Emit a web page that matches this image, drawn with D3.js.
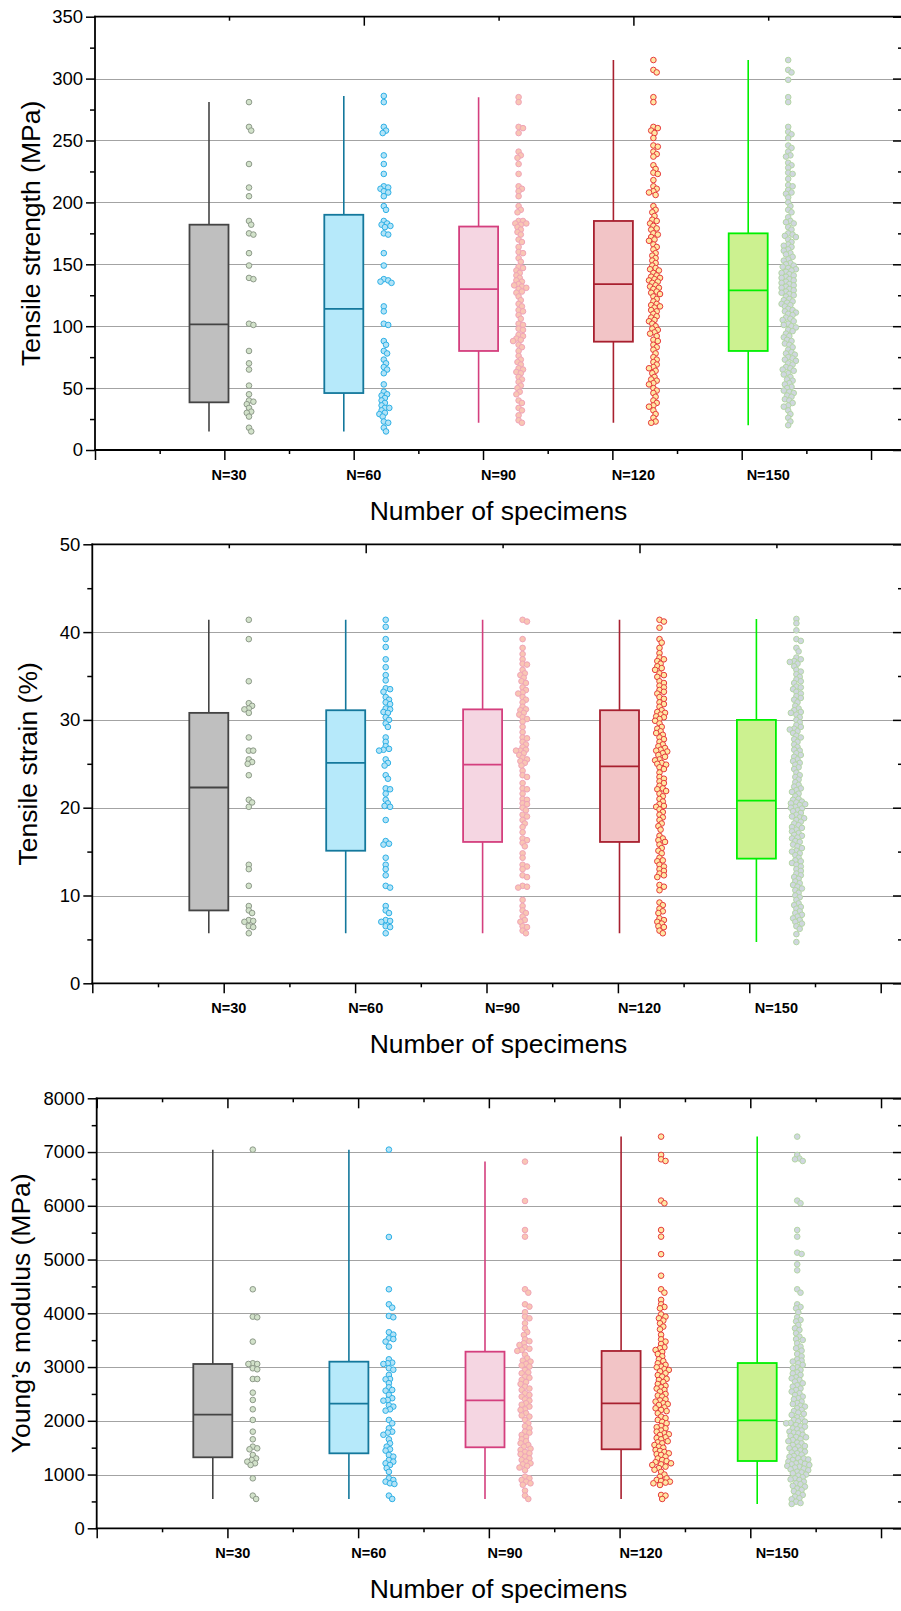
<!DOCTYPE html>
<html><head><meta charset="utf-8">
<script src="https://cdn.jsdelivr.net/npm/d3@7"></script>
<style>
body{margin:0;background:#fff}
svg{display:block}
text{font-family:"Liberation Sans",Arial,Helvetica,sans-serif;fill:#000}
</style>
</head><body>
<svg id="chart" width="901" height="1611"></svg>
<script>
// ---------------- DATA ----------------
const categories = ["N=30", "N=60", "N=90", "N=120", "N=150"];

// Tensile strength (MPa)
const strength30 = [281,261,258,231,212,205,185,182,175,174,159,149,139,138,102,101,80,70,65,52,45,40,39,37,34,31,30,27,18,15];
const strength60 = [286,281,261,258,256,238,231,223,213,212,211,209,208,205,197,194,185,183,182,181,180,175,174,159,149,138,137,136,135,116,112,102,101,88,85,80,78,73,70,67,65,62,53,47,45,44,42,40,38,36,34,34,32,30,29,27,23,22,18,15];
const strength90 = [285,281,261,260,256,241,238,236,231,223,213,211,209,205,197,194,192,185,185,183,183,182,180,178,176,174,170,168,164,160,159,155,152,148,147,145,143,141,139,137,136,134,133,132,131,130,128,127,124,121,118,116,113,112,109,106,102,101,98,97,93,92,90,89,88,85,83,80,76,73,71,69,66,65,63,62,59,57,55,52,50,47,45,40,38,34,32,28,24,22];
const strength120 = [315,307,305,285,281,261,260,258,256,252,246,245,241,239,237,230,227,224,223,218,213,211,209,208,206,197,194,192,189,186,185,183,181,179,178,175,174,172,170,169,166,164,162,159,157,155,153,151,149,147,146,145,143,141,140,139,138,137,136,135,133,132,131,130,128,127,126,124,122,120,118,117,116,115,113,112,110,108,107,105,104,102,100,98,97,95,94,92,89,88,85,83,81,78,75,73,71,69,67,66,64,62,59,57,56,54,53,50,48,46,43,40,38,36,35,32,29,26,23,22];
const strength150 = [315,307,305,299,285,281,261,257,255,252,246,244,241,238,237,232,230,228,224,223,219,214,213,210,208,207,204,200,197,194,192,188,185,184,183,180,178,175,174,173,172,170,168,166,165,164,162,161,159,158,156,154,153,151,150,149,148,147,146,145,144,143,142,141,140,139,138,137,136,135,134,133,132,131,130,129,128,127,126,125,124,122,121,120,119,118,117,116,114,113,112,111,110,109,107,106,105,104,102,101,100,99,97,96,94,92,91,89,88,86,85,83,81,79,78,77,75,74,73,72,70,69,67,66,65,64,62,61,59,57,56,54,53,51,50,48,47,46,44,43,41,40,38,36,35,32,29,26,23,20];
const strengthQ1 = [38.5, 46, 80, 87.5, 80];
const strengthMedian = [101.5, 114, 130, 134, 129];
const strengthQ3 = [182, 190, 180.5, 185, 175];
const strengthTicks = [0, 50, 100, 150, 200, 250, 300, 350];

// Tensile strain (%)
const strain30 = [41.4,39.2,34.4,31.9,31.6,31.3,31.2,30.8,28.0,26.5,26.5,25.5,25.2,25.0,23.7,20.9,20.6,20.1,13.5,13.0,11.1,8.8,8.3,8.0,7.2,7.1,7.0,6.5,6.4,5.7];
const strain60 = [41.4,40.6,39.2,38.3,36.9,36.0,35.1,34.5,33.6,33.5,33.2,32.6,32.3,32.0,31.8,31.3,31.2,30.9,30.8,30.3,30.0,29.6,29.2,28.0,27.5,27.0,26.7,26.6,26.5,25.5,25.1,24.8,23.7,23.3,22.2,22.1,21.6,20.9,20.5,20.2,20.1,18.6,16.2,15.9,15.8,14.3,13.5,13.0,12.3,11.1,10.9,8.8,8.3,8.0,7.2,7.1,7.0,6.5,6.4,5.7];
const strain90 = [41.4,41.2,39.2,38.2,37.5,36.9,36.4,36.3,35.7,35.3,35.1,34.8,34.4,34.2,33.7,33.4,33.1,33.0,32.6,32.3,32.0,31.5,31.2,31.1,30.8,30.6,30.3,30.1,29.8,29.2,28.6,28.0,27.9,27.5,27.2,26.9,26.6,26.5,26.5,26.2,26.0,25.7,25.5,25.3,25.1,24.8,24.2,23.7,23.5,22.8,22.2,22.1,21.6,21.0,20.9,20.5,20.4,20.0,19.7,19.2,19.0,18.6,18.2,17.8,17.2,16.5,16.3,16.0,15.6,14.8,14.3,13.5,13.3,13.0,12.3,12.1,11.1,11.0,10.9,9.5,8.8,8.3,8.0,7.6,7.2,7.0,6.5,6.4,6.0,5.7];
const strain120 = [41.4,41.2,40.5,39.2,38.8,38.2,37.6,37.1,36.9,36.7,36.4,36.1,35.9,35.7,35.3,35.1,34.9,34.4,34.2,33.9,33.7,33.4,33.2,33.0,32.6,32.4,32.0,31.8,31.5,31.1,30.9,30.8,30.6,30.4,30.3,30.1,29.9,29.6,29.2,29.0,28.7,28.5,28.3,28.0,27.8,27.5,27.2,27.0,26.8,26.6,26.5,26.4,26.2,26.0,25.8,25.5,25.4,25.1,25.0,24.9,24.6,24.4,24.0,23.5,23.3,23.0,22.8,22.5,22.2,22.1,21.9,21.6,21.3,21.0,20.7,20.4,20.2,20.1,19.8,19.5,19.2,18.9,18.6,18.2,17.9,17.5,16.8,16.5,16.3,16.1,15.8,15.4,15.1,14.8,14.3,14.0,13.9,13.5,13.3,13.0,12.8,12.5,12.3,12.1,11.2,11.0,10.6,9.2,8.9,8.5,8.2,8.0,7.4,7.2,7.0,6.8,6.5,6.4,6.0,5.7];
const strain150 = [41.5,41.0,40.2,39.2,39.0,38.2,37.8,37.1,36.9,36.7,36.6,36.4,36.1,35.7,35.5,35.2,34.9,34.6,34.4,34.2,33.8,33.7,33.5,33.2,33.0,32.7,32.5,32.3,32.0,31.6,31.3,31.1,30.9,30.8,30.6,30.3,30.0,29.7,29.4,29.2,29.0,28.9,28.7,28.5,28.2,28.0,27.8,27.5,27.2,26.9,26.6,26.5,26.2,26.0,25.8,25.5,25.3,25.1,24.9,24.6,24.4,24.0,23.7,23.5,23.2,22.9,22.6,22.4,22.2,22.0,21.8,21.6,21.3,21.0,20.9,20.7,20.6,20.5,20.4,20.3,20.1,20.0,19.9,19.7,19.6,19.4,19.2,19.0,18.9,18.8,18.6,18.4,18.2,18.0,17.8,17.7,17.5,17.3,17.1,16.9,16.8,16.6,16.5,16.2,16.1,15.8,15.6,15.4,15.1,15.0,14.8,14.6,14.3,14.0,13.9,13.7,13.5,13.3,13.0,12.8,12.5,12.3,12.1,11.9,11.6,11.4,11.2,11.0,10.8,10.6,10.3,10.0,9.8,9.5,9.1,8.9,8.7,8.5,8.2,8.0,7.8,7.6,7.4,7.2,7.0,6.8,6.5,6.2,5.6,4.7];
const strainQ1 = [8.3, 15.1, 16.1, 16.1, 14.2];
const strainMedian = [22.3, 25.1, 24.9, 24.7, 20.8];
const strainQ3 = [30.8, 31.1, 31.2, 31.1, 30.0];
const strainTicks = [0, 10, 20, 30, 40, 50];

// Young's modulus (MPa)
const modulus30 = [7045,4447,3938,3926,3473,3070,3057,3057,2977,2958,2778,2778,2524,2388,2214,2016,1798,1656,1519,1488,1470,1364,1300,1271,1240,1209,1178,930,608,546];
const modulus60 = [7045,5420,4447,4167,4105,3950,3926,3647,3603,3535,3520,3473,3380,3144,3082,3070,3057,2977,2950,2853,2778,2772,2700,2623,2574,2560,2481,2420,2388,2375,2290,2264,2214,2189,2016,1953,1860,1798,1780,1740,1656,1581,1519,1470,1445,1364,1333,1271,1240,1209,1178,1120,1050,930,899,868,837,825,608,546];
const modulus90 = [6822,6090,5550,5426,4447,4384,4167,4124,4020,3938,3907,3814,3720,3650,3597,3516,3480,3442,3410,3367,3340,3318,3300,3230,3163,3120,3101,3057,3030,3008,2946,2900,2884,2822,2800,2760,2720,2685,2636,2600,2574,2512,2480,2450,2400,2375,2326,2300,2264,2214,2202,2140,2100,2078,2016,1953,1900,1860,1798,1780,1736,1700,1656,1620,1581,1550,1519,1480,1457,1420,1395,1380,1333,1300,1271,1240,1209,1190,1160,1130,1080,961,930,899,868,837,810,700,608,546];
const modulus120 = [7287,6946,6865,6834,6097,6047,5550,5426,5100,4700,4447,4384,4250,4167,4118,4093,3980,3938,3907,3864,3814,3752,3702,3600,3516,3473,3429,3367,3350,3318,3280,3243,3200,3144,3110,3070,3040,3008,2995,2960,2946,2920,2884,2850,2822,2780,2760,2720,2685,2650,2623,2600,2574,2543,2499,2470,2450,2400,2380,2357,2326,2310,2295,2250,2233,2202,2180,2140,2078,2050,2016,1980,1953,1904,1880,1860,1820,1798,1767,1750,1736,1693,1680,1656,1620,1600,1581,1550,1519,1500,1457,1440,1420,1395,1380,1364,1333,1300,1271,1250,1230,1209,1190,1178,1147,1120,1090,1050,1000,960,930,899,880,868,850,837,806,620,608,546];
const modulus150 = [7287,6946,6880,6865,6834,6097,6047,5550,5426,5129,5104,4912,4800,4447,4384,4167,4118,4093,4020,3926,3876,3850,3783,3721,3690,3628,3566,3520,3504,3442,3380,3350,3305,3243,3200,3144,3120,3101,3070,3040,2995,2980,2946,2900,2880,2853,2810,2790,2760,2730,2698,2660,2636,2600,2574,2543,2512,2480,2450,2420,2400,2357,2330,2313,2280,2264,2233,2202,2180,2152,2130,2109,2065,2040,2016,1990,1984,1960,1953,1922,1900,1891,1860,1842,1820,1798,1780,1767,1740,1718,1700,1693,1660,1643,1620,1594,1580,1550,1530,1519,1490,1470,1450,1426,1410,1395,1370,1345,1330,1302,1300,1280,1271,1240,1230,1209,1200,1190,1178,1160,1147,1130,1110,1098,1080,1054,1040,1023,1000,980,950,930,910,899,868,837,820,790,775,740,713,690,651,620,589,560,540,496,470,453];
const modulusQ1 = [1321, 1395, 1507, 1470, 1252];
const modulusMedian = [2114, 2319, 2381, 2326, 2009];
const modulusQ3 = [3057, 3100, 3286, 3299, 3075];
const modulusTicks = [0, 1000, 2000, 3000, 4000, 5000, 6000, 7000, 8000];

// ---------------- STYLE ----------------
const boxFill   = ["#bfbfbf", "#b6e9fa", "#f5d6e2", "#f2c4c6", "#ccf190"];
const boxStroke = ["#444444", "#14789c", "#d43f7e", "#a8202f", "#00f000"];
const dotFill   = ["#d2e2ca", "#b2e3f7", "#f9c6b4", "#ffe7a3", "#d0d7e0"];
const dotStroke = ["#8e9a8a", "#2db0e6", "#f0a4b8", "#e6393c", "#b4d6a4"];

const svg = d3.select("#chart");
const RIGHT = 902;

function beeswarm(ys, minD, step) {
  const order = ys.map((_, i) => i).sort((a, b) => ys[a] - ys[b]);
  const placed = [];
  const xs = new Array(ys.length);
  for (const i of order) {
    const y = ys[i];
    let chosen = 0;
    for (let k = 0; k < 400; k++) {
      const m = Math.ceil(k / 2);
      const off = k === 0 ? 0 : (k % 2 ? m * step : -m * step);
      let ok = true;
      for (let j = placed.length - 1; j >= 0; j--) {
        const p = placed[j];
        const dy = y - p.y;
        if (dy > minD) break;
        const dx = off - p.x;
        if (dx * dx + dy * dy < minD * minD) { ok = false; break; }
      }
      if (ok) { chosen = off; break; }
    }
    xs[i] = chosen;
    placed.push({ x: chosen, y });
  }
  return xs;
}

function drawPanel(cfg) {
  const g = svg.append("g");
  const y = d3.scaleLinear().domain([0, cfg.ticks[cfg.ticks.length - 1]]).range([cfg.bottom, cfg.top]);
  const boxX = d3.scalePoint().domain(categories).range([cfg.box0, cfg.box0 + 4 * cfg.boxStep]);
  const labelX = d3.scalePoint().domain(categories).range([cfg.box0 + 20, cfg.box0 + 20 + 4 * cfg.boxStep]);
  const xs = d3.scaleLinear().domain([0, 12]).range([cfg.left, cfg.left + 12 * cfg.tickStep]);
  const majorStep = cfg.ticks[1] - cfg.ticks[0];
  const minors = cfg.ticks.slice(0, -1).map(t => t + majorStep / 2);

  // grid
  g.append("g").selectAll("line").data(cfg.ticks.slice(1, -1)).join("line")
    .attr("x1", cfg.left).attr("x2", RIGHT)
    .attr("y1", d => Math.round(y(d)) + 0.5).attr("y2", d => Math.round(y(d)) + 0.5)
    .attr("stroke", "#a3a3a3").attr("stroke-width", 1);

  // boxes
  categories.forEach((c, i) => {
    const vals = cfg.values[i];
    const cx = boxX(c);
    const bw = 39;
    g.append("line")
      .attr("x1", cx).attr("x2", cx)
      .attr("y1", y(d3.min(vals))).attr("y2", y(d3.max(vals)))
      .attr("stroke", boxStroke[i]).attr("stroke-width", 1.6);
    g.append("rect")
      .attr("x", cx - bw / 2).attr("width", bw)
      .attr("y", y(cfg.q3[i])).attr("height", y(cfg.q1[i]) - y(cfg.q3[i]))
      .attr("fill", boxFill[i]).attr("stroke", boxStroke[i]).attr("stroke-width", 1.8);
    g.append("line")
      .attr("x1", cx - bw / 2).attr("x2", cx + bw / 2)
      .attr("y1", y(cfg.med[i])).attr("y2", y(cfg.med[i]))
      .attr("stroke", boxStroke[i]).attr("stroke-width", 1.8);

    const ys = vals.map(v => y(v));
    const off = beeswarm(ys, 4.1, 1.1);
    g.append("g").selectAll("circle").data(vals).join("circle")
      .attr("cx", (d, j) => cx + 40 + off[j])
      .attr("cy", d => y(d))
      .attr("r", 2.8)
      .attr("fill", dotFill[i]).attr("stroke", dotStroke[i]).attr("stroke-width", 1);
  });

  // frame
  const frame = g.append("g").attr("stroke", "#000").attr("stroke-width", 1.8).attr("stroke-linecap", "square");
  frame.append("line").attr("x1", cfg.left).attr("x2", cfg.left).attr("y1", cfg.top).attr("y2", cfg.bottom);
  frame.append("line").attr("x1", cfg.left).attr("x2", RIGHT).attr("y1", cfg.bottom).attr("y2", cfg.bottom);
  frame.append("line").attr("x1", cfg.left).attr("x2", RIGHT).attr("y1", cfg.top).attr("y2", cfg.top);

  function styleAxis(sel) {
    sel.select(".domain").remove();
    sel.selectAll(".tick line").attr("stroke", "#000").attr("stroke-width", 1.5);
  }

  // left axis
  g.append("g").attr("transform", `translate(${cfg.left},0)`)
    .call(d3.axisLeft(y).tickValues(cfg.ticks).tickFormat(d3.format("d")).tickSize(9).tickPadding(3).tickSizeOuter(0))
    .call(styleAxis)
    .call(s => s.selectAll("text").attr("font-size", 18.5).attr("fill", "#000")
      .attr("font-family", '"Liberation Sans",Arial,sans-serif'));
  g.append("g").attr("transform", `translate(${cfg.left},0)`)
    .call(d3.axisLeft(y).tickValues(minors).tickSize(5).tickFormat(""))
    .call(styleAxis);

  // right axis (ticks inward)
  g.append("g").attr("transform", `translate(${RIGHT},0)`)
    .call(d3.axisRight(y).tickValues(cfg.ticks).tickSize(-9).tickFormat(""))
    .call(styleAxis);
  g.append("g").attr("transform", `translate(${RIGHT},0)`)
    .call(d3.axisRight(y).tickValues(minors).tickSize(-4).tickFormat(""))
    .call(styleAxis);

  // bottom ticks
  const xMaj = d3.range(0, 13, 2), xMin = d3.range(1, 13, 2);
  g.append("g").attr("transform", `translate(0,${cfg.bottom})`)
    .call(d3.axisBottom(xs).tickValues(xMaj).tickSize(10).tickFormat(""))
    .call(styleAxis);
  g.append("g").attr("transform", `translate(0,${cfg.bottom})`)
    .call(d3.axisBottom(xs).tickValues(xMin).tickSize(4).tickFormat(""))
    .call(styleAxis);

  // top ticks (inward)
  if (cfg.topMode === "mirror") {
    g.append("g").attr("transform", `translate(0,${cfg.top})`)
      .call(d3.axisTop(xs).tickValues(xMaj).tickSize(-10).tickFormat(""))
      .call(styleAxis);
    g.append("g").attr("transform", `translate(0,${cfg.top})`)
      .call(d3.axisTop(xs).tickValues(xMin).tickSize(-4).tickFormat(""))
      .call(styleAxis);
  } else {
    g.append("g").attr("transform", `translate(0,${cfg.top})`)
      .call(d3.axisTop(labelX).tickValues(categories.filter((d, i) => i % 2 === 1)).tickSize(-9).tickFormat(""))
      .call(styleAxis);
    g.append("g").attr("transform", `translate(0,${cfg.top})`)
      .call(d3.axisTop(labelX).tickValues(categories.filter((d, i) => i % 2 === 0)).tickSize(-4).tickFormat(""))
      .call(styleAxis);
  }

  // category labels
  g.append("g").selectAll("text").data(categories).join("text")
    .attr("x", d => labelX(d)).attr("y", cfg.bottom + 30)
    .attr("text-anchor", "middle").attr("font-size", 14.5).attr("font-weight", "bold")
    .text(d => d);

  // titles
  g.append("text")
    .attr("x", 498.5).attr("y", cfg.bottom + 69.5)
    .attr("text-anchor", "middle").attr("font-size", 26.5)
    .text("Number of specimens");
  g.append("text")
    .attr("transform", `translate(${cfg.titleX},${(cfg.top + cfg.bottom) / 2}) rotate(-90)`)
    .attr("text-anchor", "middle").attr("font-size", 26.5)
    .text(cfg.yTitle);
}

drawPanel({
  values: [strength30, strength60, strength90, strength120, strength150],
  q1: strengthQ1, med: strengthMedian, q3: strengthQ3, ticks: strengthTicks,
  yTitle: "Tensile strength (MPa)",
  left: 95, top: 16.7, bottom: 450, box0: 209, boxStep: 134.8, tickStep: 64.67,
  topMode: "cat", titleX: 40
});
drawPanel({
  values: [strain30, strain60, strain90, strain120, strain150],
  q1: strainQ1, med: strainMedian, q3: strainQ3, ticks: strainTicks,
  yTitle: "Tensile strain (%)",
  left: 92.3, top: 544.3, bottom: 983.3, box0: 208.8, boxStep: 136.9, tickStep: 65.7,
  topMode: "cat", titleX: 37
});
drawPanel({
  values: [modulus30, modulus60, modulus90, modulus120, modulus150],
  q1: modulusQ1, med: modulusMedian, q3: modulusQ3, ticks: modulusTicks,
  yTitle: "Young\u2019s modulus (MPa)",
  left: 96.7, top: 1098.3, bottom: 1528.3, box0: 212.8, boxStep: 136.1, tickStep: 65.36,
  topMode: "mirror", titleX: 30
});
</script>
</body></html>
